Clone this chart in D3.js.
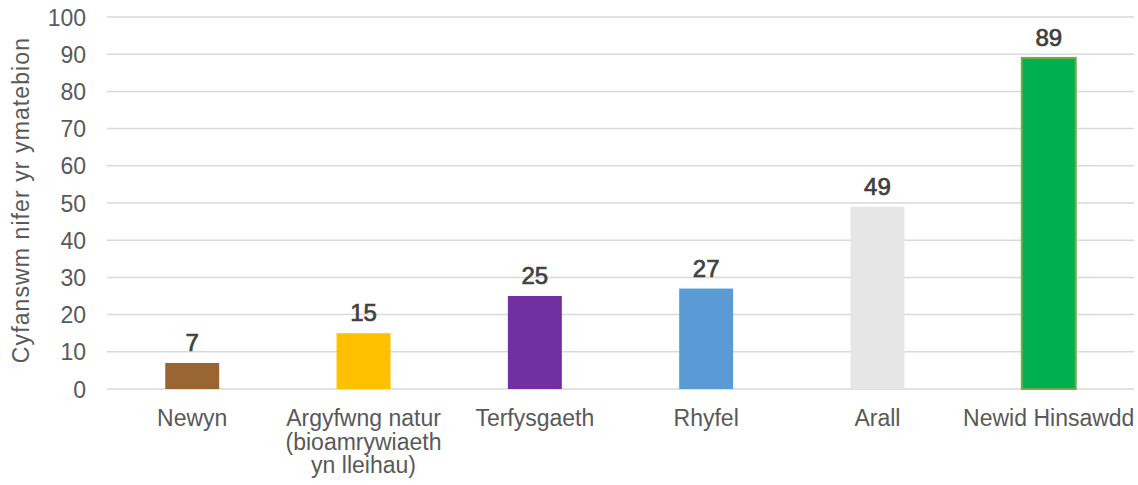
<!DOCTYPE html>
<html>
<head>
<meta charset="utf-8">
<script src="https://cdn.jsdelivr.net/npm/d3@7"></script>
<style>
  html, body { margin: 0; padding: 0; background: #fff; }
  svg { display: block; font-family: "Liberation Sans", Arial, sans-serif; }
</style>
</head>
<body>
<svg id="chart" width="1138" height="485"></svg>
<script>
// Survey responses per category
const categories = [
  ["Newyn"],
  ["Argyfwng natur", "(bioamrywiaeth", "yn lleihau)"],
  ["Terfysgaeth"],
  ["Rhyfel"],
  ["Arall"],
  ["Newid Hinsawdd"]
];
const values = [7, 15, 25, 27, 49, 89];
const barColors = ["#996633", "#FFC000", "#7030A0", "#5B9BD5", "#E7E6E6", "#00B050"];
const yTicks = [0, 10, 20, 30, 40, 50, 60, 70, 80, 90, 100];
const yTitle = "Cyfanswm nifer yr ymatebion";

const svg = d3.select("#chart");
const margin = { left: 107, right: 4, top: 17, bottom: 96 };
const W = 1138, H = 485;

const x = d3.scaleBand()
  .domain(d3.range(categories.length))
  .range([margin.left, W - margin.right])
  .paddingInner(0.685)
  .paddingOuter(0.34);

const y = d3.scaleLinear()
  .domain([0, 100])
  .range([H - margin.bottom, margin.top]);

// Gridlines
svg.append("g")
  .selectAll("line")
  .data(yTicks)
  .join("line")
  .attr("x1", margin.left)
  .attr("x2", W - margin.right)
  .attr("y1", d => y(d))
  .attr("y2", d => y(d))
  .attr("stroke", "#D9D9D9")
  .attr("stroke-width", 1.5);

// Y tick labels
const yAxis = d3.axisLeft(y).tickValues(yTicks).tickSize(0).tickPadding(0);
const gy = svg.append("g")
  .attr("transform", `translate(${margin.left - 21},0)`)
  .call(yAxis);
gy.select(".domain").remove();
gy.selectAll("text")
  .attr("fill", "#595959")
  .attr("font-size", 23)
  .attr("font-family", "Liberation Sans, Arial, sans-serif")
  .attr("dy", "0.35em");

// Y axis title
svg.append("text")
  .attr("transform", `translate(29,${(y(0) + y(100)) / 2 - 3}) rotate(-90)`)
  .attr("text-anchor", "middle")
  .attr("fill", "#595959")
  .attr("font-size", 23)
  .attr("letter-spacing", 1.1)
  .text(yTitle);

// Bars
svg.append("g")
  .selectAll("rect")
  .data(values)
  .join("rect")
  .attr("x", (d, i) => x(i))
  .attr("width", x.bandwidth())
  .attr("y", d => y(d))
  .attr("height", d => y(0) - y(d))
  .attr("fill", (d, i) => barColors[i])
  .attr("stroke", (d, i) => i === 5 ? "#70AD47" : "none")
  .attr("stroke-width", 2);

// Value labels (medium weight)
svg.append("g")
  .selectAll("text")
  .data(values)
  .join("text")
  .attr("x", (d, i) => x(i) + x.bandwidth() / 2)
  .attr("y", d => y(d) - 12)
  .attr("text-anchor", "middle")
  .attr("fill", "#404040")
  .attr("stroke", "#404040")
  .attr("stroke-width", 0.7)
  .attr("font-size", 24)
  .text(d => d);

// Category axis (labels drawn as multi-line text below)
const xAxis = d3.axisBottom(x).tickSize(0).tickFormat(() => "");
svg.append("g")
  .attr("transform", `translate(0,${y(0)})`)
  .call(xAxis)
  .select(".domain").remove();

const catG = svg.append("g");
categories.forEach((lines, i) => {
  const t = catG.append("text")
    .attr("x", x(i) + x.bandwidth() / 2)
    .attr("y", y(0) + 37)
    .attr("text-anchor", "middle")
    .attr("fill", "#595959")
    .attr("font-size", 23);
  lines.forEach((ln, k) => {
    t.append("tspan")
      .attr("x", x(i) + x.bandwidth() / 2)
      .attr("dy", k === 0 ? 0 : 23.5)
      .text(ln);
  });
});
</script>
</body>
</html>
